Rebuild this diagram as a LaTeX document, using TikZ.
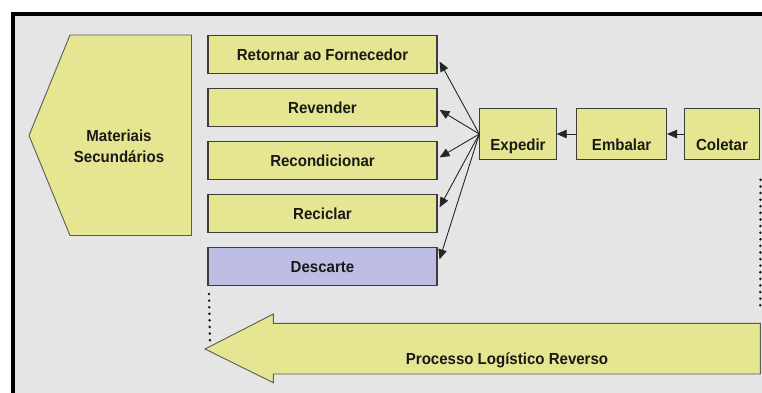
\documentclass[tikz,border=0pt]{standalone}
\usepackage{fontspec}
\newfontfamily\fonte{Liberation Sans}[FakeStretch=0.94]
\usetikzlibrary{arrows.meta,positioning}
\definecolor{amareloclaro}{RGB}{230,229,146}
\definecolor{lilas}{RGB}{189,189,230}
\definecolor{cinzafundo}{RGB}{229,229,229}
\definecolor{bordacaixa}{RGB}{60,60,60}
\definecolor{bordaseta}{RGB}{90,90,90}
\tikzset{
  caixa/.style={rectangle,draw=bordacaixa,line width=1.1pt,fill=amareloclaro,
    minimum width=229pt,minimum height=38pt,inner sep=0pt,
    font=\fonte\bfseries\fontsize{16}{19}\selectfont,text=black!90},
  etapa/.style={caixa,minimum height=50.6pt,text height=33.5pt,text depth=0pt},
  rotulo/.style={font=\fonte\bfseries\fontsize{16}{21}\selectfont,text=black!90,
    align=center,inner sep=0pt},
  seta/.style={-{Triangle[length=10pt,width=8.5pt]},line width=0.9pt,black!85},
  pontilhado/.style={line width=2.8pt,line cap=round,dash pattern=on 0pt off 6.6pt,
    black!90}
}
\begin{document}
\begin{tikzpicture}[x=1pt,y=-1pt]
  \clip (0,0) rectangle (762,392);
  \fill[white] (0,0) rectangle (762,392);
  \draw[line width=4pt,fill=cinzafundo] (13,14) rectangle (780,400);
  % materiais secundarios
  \draw[bordaseta,line width=0.9pt,fill=amareloclaro] (29,135.5)--(70,35)--(191.5,35)
    --(191.5,235.5)--(70,235.5)--cycle;
  \node[rotulo] (mat) at (119,146) {Materiais\\Secundários};
  % destinos
  \node[caixa] (ret) at (322.5,54.5) {Retornar ao Fornecedor};
  \node[caixa,below=14pt of ret] (rev) {Revender};
  \node[caixa,below=14pt of rev] (rec) {Recondicionar};
  \node[caixa,below=14pt of rec] (recic) {Reciclar};
  \node[caixa,fill=lilas,below=14pt of recic] (desc) {Descarte};
  % etapas
  \node[etapa,minimum width=76.3pt] (exp) at (518,134) {Expedir};
  \node[etapa,minimum width=89.6pt,right=19.6pt of exp] (emb) {Embalar};
  \node[etapa,minimum width=75pt,right=16.9pt of emb] (col) {Coletar};
  \draw[seta] (col) -- (emb);
  \draw[seta] (emb) -- (exp);
  \foreach \dest/\dy in {ret/-7,rev/-2.3,rec/3.3,recic/6.4,desc/7.5}
    \draw[seta] (exp.west) -- ([xshift=2pt,yshift=\dy pt]\dest.east);
  % seta do processo
  \draw[bordaseta,line width=0.9pt,fill=amareloclaro] (205,349)--(273.3,314)
    --(273.3,323.3)--(760.3,323.3)--(760.3,374)--(273.3,374)--(273.3,382.7)--cycle;
  \coordinate (ponta) at (205,349);
  \coordinate (cauda) at (760.3,323.3);
  \node[rotulo] (proc) at (507,360.7) {Processo Logístico Reverso};
  \draw[pontilhado] ([xshift=1.5pt,yshift=-7.5pt]desc.south west)
    -- ([xshift=5pt,yshift=8pt]ponta);
  \draw[pontilhado] ([xshift=0.5pt,yshift=-20pt]col.south east)
    -- ([yshift=17pt]cauda);
\end{tikzpicture}
\end{document}
